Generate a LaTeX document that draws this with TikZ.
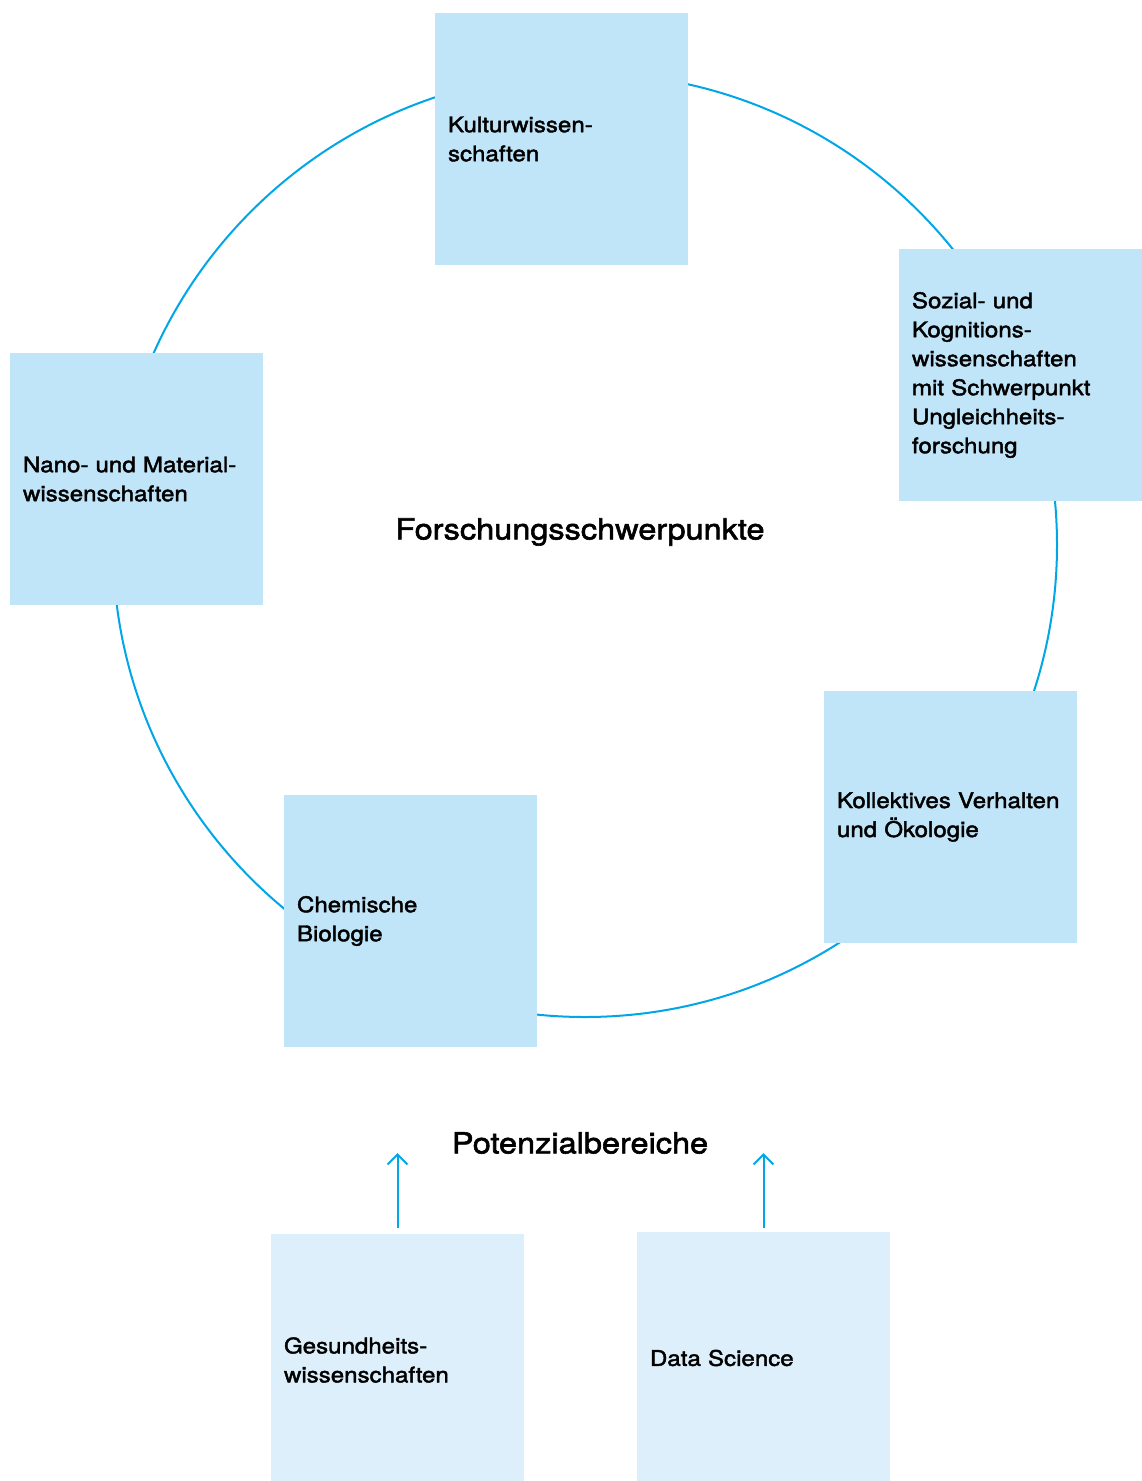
\documentclass[tikz,border=0pt]{standalone}
\usepackage{fontspec}
\setmainfont{TeX Gyre Heros}[FakeStretch=1.12, FakeBold=2]
\usetikzlibrary{arrows.meta}
\usetikzlibrary{positioning}
\definecolor{c1}{RGB}{0, 166, 230}
\definecolor{c2}{RGB}{192, 228, 248}
\definecolor{c3}{RGB}{220, 239, 250}
\tikzset{
  field/.style = {rectangle, fill=c2, minimum width=253pt, minimum height=252pt, text width=227pt, inner xsep=13pt, align=left, font=\fontsize{21.5}{29}\selectfont},
  potential/.style = {field, fill=c3},
  heading/.style = {font=\fontsize{29}{34}\selectfont},
  edge/.style = {-{Straight Barb[length=10pt, width=20pt, line width=2pt]}, c1, line width=2pt},
}

\begin{document}
\begin{tikzpicture}[x=1pt, y=-1pt]
	\useasboundingbox (0,0) rectangle (1141,1481);

	\draw[c1, line width=2pt] (585,545) circle[radius=472pt];

	\node[field] (kultur) at (561.5,139) {Kulturwissen-\\schaften};
	\node[field] (sozial) at (1025.5,375) {Sozial- und\\Kognitions-\\wissenschaften\\mit Schwerpunkt\\Ungleichheits-\\forschung};
	\node[field] (nano) at (136.5,479) {Nano- und Material-\\wissenschaften};
	\node[field] (kollektiv) at (950.5,817) {Kollektives Verhalten\\und Ökologie};
	\node[field] (chemie) at (410.5,921) {Chemische\\Biologie};

	\node[heading] (schwerpunkte) at (580,532) {Forschungsschwerpunkte};
	\node[heading] (potenzial) at (580,1143) {Potenzialbereiche};

	\node[potential] (gesund) at (397.5,1360) {Gesundheits-\\wissenschaften};
	\node[potential] (data) at (763.5,1358) {Data Science};

	\coordinate (gtip) at (397.5,1153);
	\coordinate (dtip) at (763.5,1153);
	\draw[edge] ([yshift=6pt]gesund.north) -- (gtip);
	\draw[edge] ([yshift=4pt]data.north) -- (dtip);
\end{tikzpicture}
\end{document}
